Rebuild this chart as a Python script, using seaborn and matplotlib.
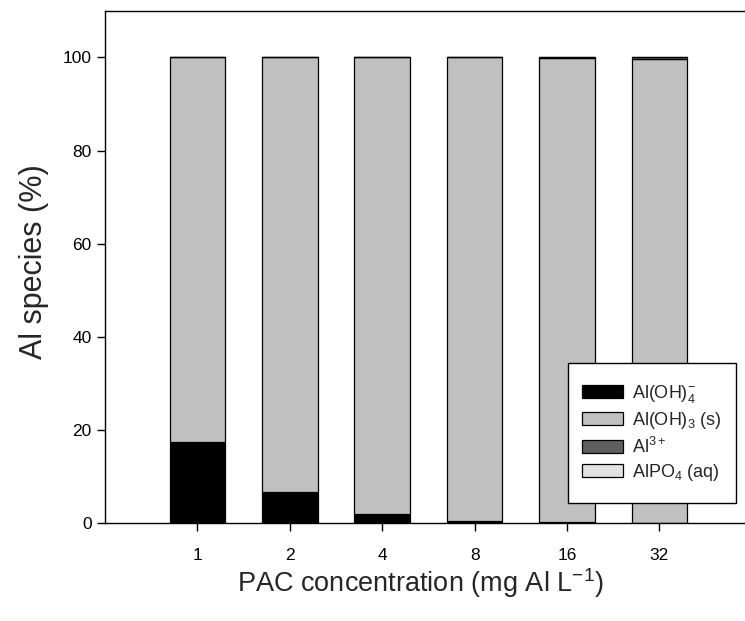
import numpy as np
import pandas as pd
import matplotlib
matplotlib.use("Agg")
import matplotlib.pyplot as plt
from matplotlib.patches import Rectangle
import seaborn as sns

# PAC dose (mg Al/L) and aluminium speciation (%)
doses = ["1", "2", "4", "8", "16", "32"]
al_oh4 = [17.4, 6.7, 1.9, 0.3, 0.1, 0.05]
al_oh3_s = [82.6, 93.3, 98.1, 99.7, 99.7, 99.55]
al3 = [0.0, 0.0, 0.0, 0.0, 0.2, 0.4]
alpo4 = [0.0, 0.0, 0.0, 0.0, 0.0, 0.0]

labels = [r"Al(OH)$_4^{-}$", r"Al(OH)$_3$ (s)", r"Al$^{3+}$", r"AlPO$_4$ (aq)"]
colors = ["#000000", "#c0c0c0", "#5f5f5f", "#e2e2e2"]

sns.set_theme(style="ticks")
plt.rcParams["font.family"] = ["Liberation Sans", "DejaVu Sans"]
plt.rcParams["mathtext.fontset"] = "custom"
plt.rcParams["mathtext.rm"] = "Liberation Sans"
plt.rcParams["mathtext.it"] = "Liberation Sans"

df = pd.DataFrame({"dose": doses, "a": al_oh4, "b": al_oh3_s, "c": al3, "d": alpo4})

fig = plt.figure(figsize=(7.45, 6.21), dpi=100)
ax = fig.add_axes([0.141, 0.158, 0.868, 0.8245])

bottom = np.zeros(len(doses))
for col, lab, colr in zip(["a", "b", "c", "d"], labels, colors):
    sns.barplot(data=df, x="dose", y=col, order=doses, color=colr, width=0.6,
                bottom=bottom, edgecolor="black", linewidth=0.9, label=lab,
                ax=ax, saturation=1)
    bottom = bottom + df[col].to_numpy()

ax.set_xlim(-1, 6)
ax.set_ylim(0, 110)
ax.set_yticks([0, 20, 40, 60, 80, 100])
ax.tick_params(axis="both", direction="out", length=6, width=1, labelsize=12.5,
               colors="black")
ax.tick_params(axis="x", pad=12)
for s in ["left", "bottom", "top"]:
    ax.spines[s].set_color("black")
    ax.spines[s].set_linewidth(1.0)
ax.spines["right"].set_visible(False)

ax.set_ylabel("Al species (%)", fontsize=22)
ax.yaxis.set_label_coords(-0.086, 0.51)
ax.set_xlabel(r"PAC concentration (mg Al L$^{-1}$)", fontsize=19.5)
ax.xaxis.set_label_coords(0.487, -0.085)

# legend box drawn as a separate white frame with the entries centred inside
box = (0.7156, 0.039, 0.2597, 0.2735)
ax.add_patch(Rectangle(box[:2], box[2], box[3], transform=ax.transAxes,
                       facecolor="white", edgecolor="black", linewidth=1.0,
                       zorder=4, clip_on=False))
leg = ax.legend(loc="center", bbox_to_anchor=(box[0] + box[2] / 2, box[1] + box[3] / 2),
                fontsize=13, frameon=False, borderpad=0, borderaxespad=0,
                handlelength=2.3, handleheight=0.7,
                labelspacing=0.3, handletextpad=0.5)
leg.set_zorder(5)

fig.savefig("out.png", dpi=100)
